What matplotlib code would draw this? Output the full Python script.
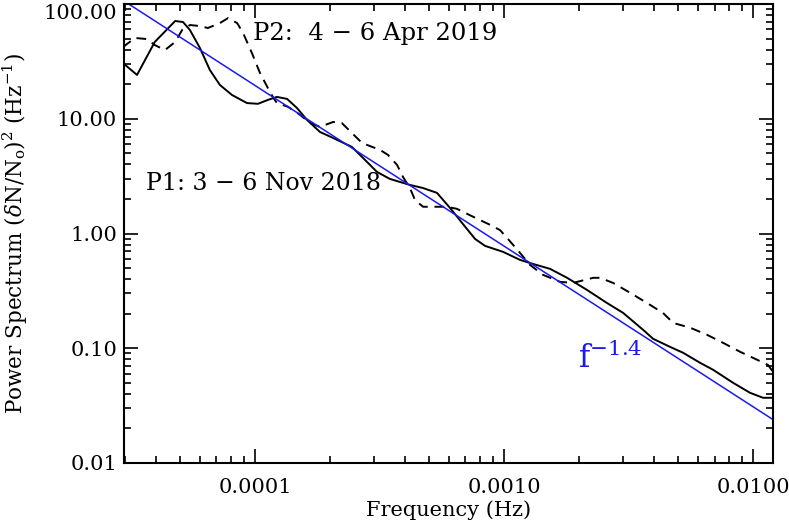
import numpy as np
import matplotlib
matplotlib.use("Agg")
import matplotlib.pyplot as plt
from matplotlib.ticker import FormatStrFormatter, LogLocator

plt.rcParams['font.family'] = ['DejaVu Serif']
plt.rcParams['mathtext.fontset'] = 'dejavuserif'

# P1: 3 - 6 Nov 2018 (solid)
freq_p1 = [2.95e-5, 3.36e-5, 3.96e-5, 4.78e-5, 5.14e-5, 5.48e-5, 6.01e-5, 6.59e-5,
           7.23e-5, 8.09e-5, 9.29e-5, 1.028e-4, 1.127e-4, 1.225e-4, 1.345e-4, 1.475e-4,
           1.618e-4, 1.824e-4, 2.06e-4, 2.45e-4, 2.69e-4, 3.09e-4, 3.48e-4, 4.19e-4,
           4.73e-4, 5.38e-4, 6.07e-4, 6.84e-4, 7.65e-4, 8.39e-4, 9.91e-4, 1.159e-3,
           1.307e-3, 1.530e-3, 1.791e-3, 2.15e-3, 2.59e-3, 3.01e-3, 3.62e-3, 3.97e-3,
           4.64e-3, 5.24e-3, 6.13e-3, 6.91e-3, 8.31e-3, 9.72e-3, 1.096e-2, 1.202e-2]
power_p1 = [30.6, 24.1, 46.7, 71.1, 69.7, 59.4, 41.4, 26.6,
            19.7, 16.1, 13.7, 13.5, 14.6, 15.5, 14.9, 12.4,
            9.77, 7.67, 6.80, 5.68, 4.65, 3.44, 2.99, 2.65,
            2.49, 2.26, 1.67, 1.21, 0.897, 0.780, 0.692, 0.589,
            0.543, 0.492, 0.411, 0.323, 0.248, 0.203, 0.1445, 0.1208,
            0.1028, 0.0912, 0.0746, 0.0649, 0.0500, 0.0409, 0.0370, 0.0370]

# P2: 4 - 6 Apr 2019 (dashed)
freq_p2 = [2.95e-5, 3.30e-5, 3.68e-5, 3.96e-5, 4.35e-5, 4.78e-5, 5.10e-5, 5.48e-5,
           6.01e-5, 6.47e-5, 7.23e-5, 7.80e-5, 8.48e-5, 8.96e-5, 9.72e-5, 1.047e-4,
           1.127e-4, 1.180e-4, 1.225e-4, 1.358e-4, 1.518e-4, 1.663e-4, 1.824e-4, 2.06e-4,
           2.23e-4, 2.45e-4, 2.69e-4, 3.18e-4, 3.42e-4, 3.72e-4, 3.93e-4, 4.19e-4,
           4.39e-4, 4.73e-4, 5.38e-4, 5.90e-4, 6.47e-4, 7.51e-4, 8.79e-4, 9.64e-4,
           1.028e-3, 1.159e-3, 1.271e-3, 1.435e-3, 1.679e-3, 1.893e-3, 2.28e-3, 2.43e-3,
           2.74e-3, 3.21e-3, 3.75e-3, 4.35e-3, 4.78e-3, 5.59e-3, 6.53e-3, 7.58e-3,
           8.87e-3, 1.038e-2, 1.148e-2, 1.202e-2]
power_p2 = [42.2, 50.6, 49.5, 43.9, 39.7, 46.7, 59.4, 65.6,
            64.3, 61.8, 68.2, 75.5, 68.2, 55.9, 37.4, 25.1,
            18.5, 15.5, 13.7, 12.7, 10.8, 9.19, 8.49, 9.38,
            9.19, 7.52, 6.15, 5.35, 4.84, 3.96, 3.11, 2.49,
            1.96, 1.71, 1.71, 1.71, 1.64, 1.40, 1.19, 1.07,
            0.916, 0.678, 0.533, 0.436, 0.379, 0.371, 0.411, 0.411,
            0.371, 0.304, 0.248, 0.203, 0.166, 0.151, 0.131, 0.1114,
            0.0931, 0.0793, 0.0716, 0.0622]

# power law reference f^-1.4
slope = -1.4
amp = 4.9e-5

xlim = (2.98e-5, 1.202e-2)
ylim = (0.01, 100.0)

fig = plt.figure(figsize=(7.89, 5.29), dpi=100)
ax = fig.add_axes([0.1572, 0.1248, 0.8225, 0.8676])
ax.set_xscale('log')
ax.set_yscale('log')

ax.plot(freq_p2, power_p2, color='black', lw=1.4, dashes=(5, 3.5))
ax.plot(freq_p1, power_p1, color='black', lw=1.4)
fx = np.array(xlim)
ax.plot(fx, amp * fx ** slope, color='#1a1aee', lw=1.1)

ax.set_xlim(*xlim)
ax.set_ylim(*ylim)

ax.text(9.82e-5, 48.5, 'P2:  4 \u2212 6 Apr 2019', fontsize=17.5, va='baseline', ha='left')
ax.text(3.65e-5, 2.40, 'P1: 3 \u2212 6 Nov 2018', fontsize=17, va='baseline', ha='left')
ax.text(1.98e-3, 0.0675, r'f$^{-1.4}$', fontsize=22, color='#1a1aee', va='baseline', ha='left')

ax.xaxis.set_major_locator(LogLocator(base=10))
ax.xaxis.set_minor_locator(LogLocator(base=10, subs=np.arange(2, 10)))
ax.yaxis.set_major_locator(LogLocator(base=10))
ax.yaxis.set_minor_locator(LogLocator(base=10, subs=np.arange(2, 10)))
ax.xaxis.set_major_formatter(FormatStrFormatter('%.4f'))
ax.yaxis.set_major_formatter(FormatStrFormatter('%.2f'))
ax.xaxis.set_minor_formatter(plt.NullFormatter())
ax.yaxis.set_minor_formatter(plt.NullFormatter())

ax.tick_params(which='both', direction='in', top=True, right=True, width=1.2)
ax.tick_params(which='major', length=10, labelsize=15)
ax.tick_params(axis='x', which='major', pad=11)
ax.tick_params(axis='y', which='major', pad=5)
ax.tick_params(which='minor', length=5)
for sp in ax.spines.values():
    sp.set_linewidth(1.5)

ax.set_xlabel('Frequency (Hz)', fontsize=15, labelpad=2)
ax.set_ylabel(r'Power Spectrum ($\delta$N/N$_{\rm o}$)$^2$ (Hz$^{-1}$)', fontsize=15.5, labelpad=10)

# keep the top y label inside the figure, as in the reference
fig.canvas.draw()
for lab in ax.get_yticklabels():
    if lab.get_text() == '100.00':
        lab.set_va('top')

fig.savefig('out.png', dpi=100)
